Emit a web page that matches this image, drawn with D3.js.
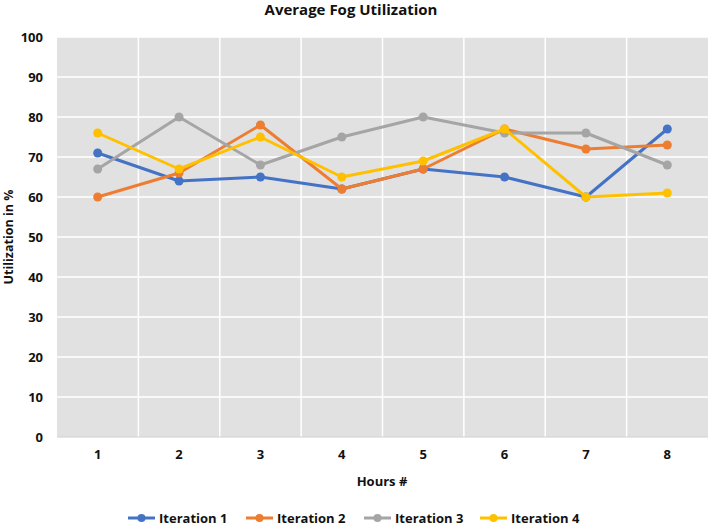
<!DOCTYPE html>
<html><head><meta charset="utf-8">
<script src="https://cdn.jsdelivr.net/npm/d3@7/dist/d3.min.js"></script>
<style>body{margin:0;background:#fff}svg{display:block}text{font-family:"Open Sans",Lato,sans-serif;font-weight:700;fill:#111}</style>
</head><body><svg id="c" width="709" height="526"></svg>
<script>
const hours = ["1","2","3","4","5","6","7","8"];
const yTicks = [0,10,20,30,40,50,60,70,80,90,100];
const seriesNames = ["Iteration 1","Iteration 2","Iteration 3","Iteration 4"];
const iter1 = [71,64,65,62,67,65,60,77];
const iter2 = [60,66,78,62,67,77,72,73];
const iter3 = [67,80,68,75,80,76,76,68];
const iter4 = [76,67,75,65,69,77,60,61];
const colors = ["#4472C4","#ED7D31","#A5A5A5","#FFC000"];
const seriesValues = [iter1,iter2,iter3,iter4];

const svg = d3.select("#c");
const L=57, R=708, T=37, B=437;
const x = d3.scaleBand().domain(hours).range([L,R]);
const y = d3.scaleLinear().domain([0,100]).range([B,T]);

svg.append("rect").attr("x",L).attr("y",T).attr("width",R-L).attr("height",B-T).attr("fill","#E1E1E1");

svg.append("g").selectAll("line").data(yTicks.filter(d=>d>0)).join("line")
  .attr("x1",L).attr("x2",R).attr("y1",d=>y(d)).attr("y2",d=>y(d))
  .attr("stroke","#fff").attr("stroke-width",1.5);
svg.append("g").selectAll("line").data(hours.slice(1)).join("line")
  .attr("x1",d=>x(d)).attr("x2",d=>x(d)).attr("y1",T).attr("y2",B)
  .attr("stroke","#fff").attr("stroke-width",1.5);
svg.append("line").attr("x1",L).attr("x2",R).attr("y1",B).attr("y2",B).attr("stroke","#d0d0d0").attr("stroke-width",1);

const ya = svg.append("g").attr("transform",`translate(${L},0)`)
  .call(d3.axisLeft(y).tickValues(yTicks).tickSize(0).tickPadding(14));
ya.select(".domain").remove();
ya.selectAll("text").style("font-size","13px").attr("fill","#111");

const xa = svg.append("g").attr("transform",`translate(0,${B})`)
  .call(d3.axisBottom(x).tickSize(0).tickPadding(13));
xa.select(".domain").remove();
xa.selectAll("text").style("font-size","13px").attr("fill","#111");

const line = d3.line().x((d,i)=>x(hours[i])+x.bandwidth()/2).y(d=>y(d));
seriesValues.forEach((vals,k)=>{
  svg.append("path").datum(vals).attr("d",line).attr("fill","none")
    .attr("stroke",colors[k]).attr("stroke-width",3).attr("stroke-linejoin","round");
  svg.append("g").selectAll("circle").data(vals).join("circle")
    .attr("cx",(d,i)=>x(hours[i])+x.bandwidth()/2).attr("cy",d=>y(d)).attr("r",4.5)
    .attr("fill",colors[k]);
});

svg.append("text").attr("x",351).attr("y",15).attr("text-anchor","middle").style("font-size","15px").text("Average Fog Utilization");
svg.append("text").attr("x",382).attr("y",486).attr("text-anchor","middle").style("font-size","13px").text("Hours #");
svg.append("text").attr("transform","translate(13,237) rotate(-90)").attr("text-anchor","middle").style("font-size","12.5px").text("Utilization in %");

const legX = [128,246,364,480];
seriesNames.forEach((n,k)=>{
  const g = svg.append("g").attr("transform",`translate(${legX[k]},518)`);
  g.append("line").attr("x1",0).attr("x2",27).attr("stroke",colors[k]).attr("stroke-width",3);
  g.append("circle").attr("cx",13.5).attr("r",4).attr("fill",colors[k]);
  g.append("text").attr("x",31).attr("y",4.5).style("font-size","13px").text(n);
});
</script></body></html>
